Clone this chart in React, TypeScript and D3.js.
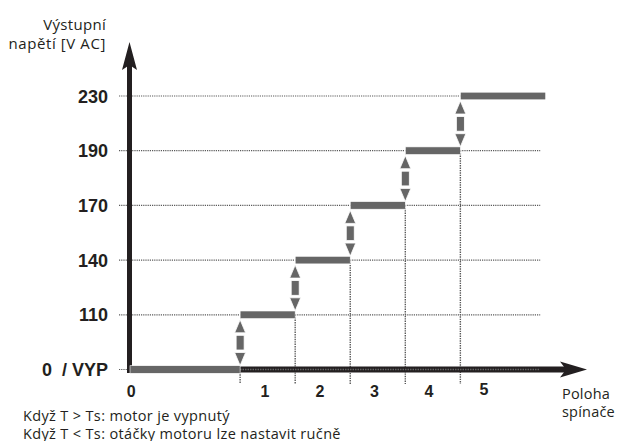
import React from "react";
import * as d3 from "d3";

// ---- data ----
const levels: string[] = ["0 / VYP", "110", "140", "170", "190", "230"];
const stepStart: number[] = [0, 2, 3, 4, 5, 6];
const stepEnd: number[] = [2, 3, 4, 5, 6, 7.55];
const positionLabels: string[] = ["0", "1", "2", "3", "4", "5"];
const positionAt: number[] = [0.02, 2.45, 3.45, 4.44, 5.43, 6.43];
const yTitle: string[] = ["Výstupní", "napětí [V AC]"];
const xTitle: string[] = ["Poloha", "spínače"];
const notes: string[] = [
  "Když T > Ts: motor je vypnutý",
  "Když T < Ts: otáčky motoru lze nastavit ručně",
];

const W = 617;
const H = 441;
const DARK = "#231f20";
const GRAY = "#666666";
const DOT = "#5a5a5a";
const TEXT_FONT = "'Open Sans', 'Noto Sans', sans-serif";
const NUM_FONT = "'Liberation Sans', Arial, sans-serif";

export default function App() {
  const x = d3.scaleLinear().domain([0, 8.3]).range([130, 587]);
  const y = d3.scalePoint<string>().domain(levels).range([369.5, 96]);
  const axisX = x(0) - 0.5;
  const gridEnd = x(7.45);
  const yTip = 42;
  const xTip = x(8.3);
  const y0 = y(levels[0])!;

  const arrow = (cx: number, yHigh: number, yLow: number, key: string) => {
    const top = yHigh + 5;
    const bot = yLow - 4;
    const hw = 5.5;
    const headH = 13;
    const gap = 2.5;
    const sw = 4;
    const line = d3.line();
    const up = line([
      [cx, top],
      [cx + hw, top + headH],
      [cx - hw, top + headH],
    ])!;
    const down = line([
      [cx, bot],
      [cx + hw, bot - headH],
      [cx - hw, bot - headH],
    ])!;
    return (
      <g key={key} fill={GRAY} stroke="#ffffff" strokeWidth={0.8}>
        <path d={up + "Z"} />
        <rect
          x={cx - sw}
          y={top + headH + gap}
          width={sw * 2}
          height={bot - headH - gap - (top + headH + gap)}
        />
        <path d={down + "Z"} />
      </g>
    );
  };

  return (
    <div style={{ position: "absolute", left: 0, top: 0 }}>
      <svg width={W} height={H} style={{ display: "block", background: "#fff" }}>
        {/* horizontal dotted gridlines */}
        {levels.map((l) => (
          <line
            key={"g" + l}
            x1={119}
            x2={gridEnd}
            y1={y(l)}
            y2={y(l)}
            stroke={DOT}
            strokeWidth={1.2}
            strokeDasharray="1.2,1"
          />
        ))}
        {/* vertical dotted lines at switch boundaries */}
        {stepStart.slice(1).map((s, i) => (
          <line
            key={"v" + i}
            x1={x(s)}
            x2={x(s)}
            y1={y(levels[i])}
            y2={384}
            stroke={DOT}
            strokeWidth={1.4}
            strokeDasharray="1.4,1"
          />
        ))}
        {/* x axis */}
        <line x1={axisX} x2={xTip - 20} y1={y0} y2={y0} stroke={DARK} strokeWidth={6} />
        <line
          x1={x(2)}
          x2={gridEnd}
          y1={y0}
          y2={y0}
          stroke="#6a6a6a"
          strokeWidth={1.5}
          strokeDasharray="1.3,1.2"
        />
        <path
          d={`M${xTip},${y0} L${xTip - 27},${y0 - 8} L${xTip - 21},${y0} L${xTip - 27},${y0 + 8} Z`}
          fill={DARK}
        />
        {/* y axis */}
        <line x1={axisX} x2={axisX} y1={y0 + 3.5} y2={yTip + 20} stroke={DARK} strokeWidth={5} />
        <path
          d={`M${axisX},${yTip} L${axisX + 7.5},${yTip + 28} L${axisX},${yTip + 23} L${axisX - 7.5},${yTip + 28} Z`}
          fill={DARK}
        />
        {/* step bars */}
        {levels.map((l, i) => (
          <rect
            key={"b" + l}
            x={x(stepStart[i])}
            y={y(l)! - 3.8}
            width={x(stepEnd[i]) - x(stepStart[i])}
            height={7.6}
            fill={GRAY}
            stroke="#ffffff"
            strokeWidth={0.6}
          />
        ))}
        {/* double arrows */}
        {stepStart.slice(1).map((s, i) =>
          arrow(x(s), y(levels[i + 1])!, y(levels[i])!, "a" + i)
        )}
        {/* y tick labels */}
        {levels.map((l) => (
          <text
            key={"t" + l}
            x={108}
            y={y(l)! + 6.5}
            textAnchor="end"
            fontFamily={NUM_FONT}
            fontWeight="bold"
            fontSize={18}
            fill={DARK}
            style={{ whiteSpace: "pre" }}
          >
            {l === "0 / VYP" ? "0  / VYP" : l}
          </text>
        ))}
        {/* x position labels */}
        {positionLabels.map((p, i) => (
          <text
            key={"p" + p}
            x={x(positionAt[i])}
            y={i === 5 ? 395 : 397}
            textAnchor="middle"
            fontFamily={NUM_FONT}
            fontWeight="bold"
            fontSize={16}
            fill={DARK}
          >
            {p}
          </text>
        ))}
        {/* y title */}
        {yTitle.map((t, i) => (
          <text
            key={"yt" + i}
            x={106}
            y={30 + i * 19}
            textAnchor="end"
            fontFamily={TEXT_FONT}
            fontSize={15}
            letterSpacing={i === 1 ? 0.6 : 0.3}
            fill={DARK}
          >
            {t}
          </text>
        ))}
        {/* x title */}
        {xTitle.map((t, i) => (
          <text
            key={"xt" + i}
            x={562}
            y={398.5 + i * 18}
            fontFamily={TEXT_FONT}
            fontSize={14.5}
            letterSpacing={0.2}
            fill={DARK}
          >
            {t}
          </text>
        ))}
        {/* notes */}
        {notes.map((t, i) => (
          <text
            key={"n" + i}
            x={23}
            y={421 + i * 17.5}
            fontFamily={TEXT_FONT}
            fontSize={14.5}
            letterSpacing={0.35}
            fill={DARK}
          >
            {t}
          </text>
        ))}
      </svg>
    </div>
  );
}
